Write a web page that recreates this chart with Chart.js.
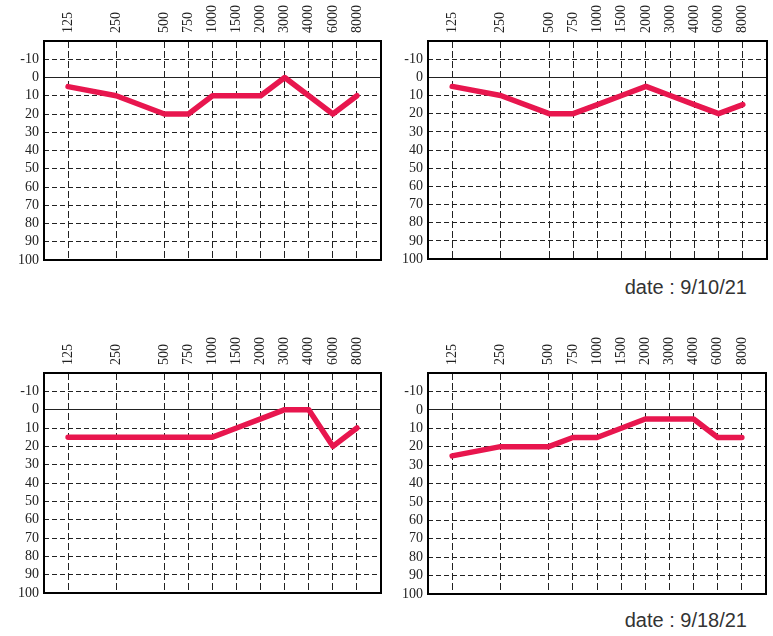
<!DOCTYPE html>
<html lang="en">
<head>
  <meta charset="UTF-8">
  <title>Audiograms</title>
  <style>
    body {
      margin: 0;
      padding: 0;
      background: #fff;
      width: 773px;
      height: 636px;
      position: relative;
      overflow: hidden;
    }
    canvas {
      position: absolute;
    }
    .date {
      position: absolute;
      right: 26px;
      font-family: "Liberation Sans", Arial, sans-serif;
      font-size: 20px;
      line-height: 23px;
      color: #333;
    }
  </style>
  <script src="https://cdn.jsdelivr.net/npm/chart.js"></script>
</head>
<body>
  <canvas id="chart1" width="385" height="264" style="left:0px; top:0px;"></canvas>
  <canvas id="chart2" width="387" height="263" style="left:384px; top:0px;"></canvas>
  <canvas id="chart3" width="385" height="265" style="left:0px; top:332px;"></canvas>
  <canvas id="chart4" width="386" height="266" style="left:384px; top:332px;"></canvas>
  <div class="date" id="date1" style="top:276px;"></div>
  <div class="date" id="date2" style="top:609px;"></div>

  <script>
    // frequencies (Hz) and the column each one sits in on the audiogram grid
    const freqLabels = ['125', '250', '500', '750', '1000', '1500', '2000', '3000', '4000', '6000', '8000'];
    const freqSlots = [0, 2, 4, 5, 6, 7, 8, 9, 10, 11, 12];
    const levelTicks = [-10, 0, 10, 20, 30, 40, 50, 60, 70, 80, 90, 100];

    // hearing levels (dB) per chart
    const levels1 = [5, 10, 20, 20, 10, 10, 10, 0, 10, 20, 10];
    const levels2 = [5, 10, 20, 20, 15, 10, 5, 10, 15, 20, 15];
    const levels3 = [15, 15, 15, 15, 15, 10, 5, 0, 0, 20, 10];
    const levels4 = [25, 20, 20, 15, 15, 10, 5, 5, 5, 15, 15];

    const dates = ['9/10/21', '9/18/21'];

    document.getElementById('date1').innerText = 'date : ' + dates[0];
    document.getElementById('date2').innerText = 'date : ' + dates[1];

    // black frame round the plot area
    const framePlugin = {
      id: 'frame',
      afterDraw(chart) {
        const a = chart.chartArea;
        const ctx = chart.ctx;
        ctx.save();
        ctx.strokeStyle = '#000';
        ctx.lineWidth = 2;
        ctx.strokeRect(a.left, a.top, a.right - a.left, a.bottom - a.top);
        ctx.restore();
      }
    };

    const tickFont = { family: '"Liberation Serif", "Times New Roman", serif', size: 14, lineHeight: 1.2 };

    function makeAudiogram(id, levels) {
      const ctx = document.getElementById(id).getContext('2d');
      return new Chart(ctx, {
        type: 'line',
        data: {
          datasets: [{
            data: levels.map((v, i) => ({ x: freqSlots[i], y: v })),
            borderColor: '#e8164e',
            borderWidth: 5.5,
            pointRadius: 0,
            borderJoinStyle: 'round',
            borderCapStyle: 'round',
            tension: 0
          }]
        },
        options: {
          responsive: false,
          animation: false,
          layout: { padding: { left: 0, top: 0, right: 4, bottom: 4 } },
          plugins: {
            legend: { display: false },
            tooltip: { enabled: false }
          },
          scales: {
            x: {
              type: 'linear',
              position: 'top',
              min: -1,
              max: 13,
              afterBuildTicks: (scale) => {
                scale.ticks = freqSlots.map(v => ({ value: v }));
              },
              afterFit: (scale) => {
                scale.height = 41;
                scale.paddingLeft = 0;
                scale.paddingRight = 0;
              },
              ticks: {
                autoSkip: false,
                minRotation: 90,
                maxRotation: 90,
                padding: 8,
                labelOffset: 16.8,
                color: '#222',
                font: tickFont,
                callback: (v) => freqLabels[freqSlots.indexOf(v)]
              },
              grid: {
                drawTicks: false,
                color: '#222',
                lineWidth: 1
              },
              border: {
                display: false,
                dash: [7, 3]
              }
            },
            y: {
              type: 'linear',
              reverse: true,
              min: -20,
              max: 100,
              afterBuildTicks: (scale) => {
                scale.ticks = levelTicks.map(v => ({ value: v }));
              },
              afterFit: (scale) => {
                scale.width = 44;
                scale.paddingTop = 0;
                scale.paddingBottom = 0;
              },
              ticks: {
                padding: 5,
                color: '#222',
                font: tickFont
              },
              grid: {
                drawTicks: false,
                color: '#222',
                lineWidth: 1
              },
              border: {
                display: false,
                dash: (c) => (c.tick && c.tick.value === 0 ? [] : [5, 3])
              }
            }
          }
        },
        plugins: [framePlugin]
      });
    }

    makeAudiogram('chart1', levels1);
    makeAudiogram('chart2', levels2);
    makeAudiogram('chart3', levels3);
    makeAudiogram('chart4', levels4);
  </script>
</body>
</html>
